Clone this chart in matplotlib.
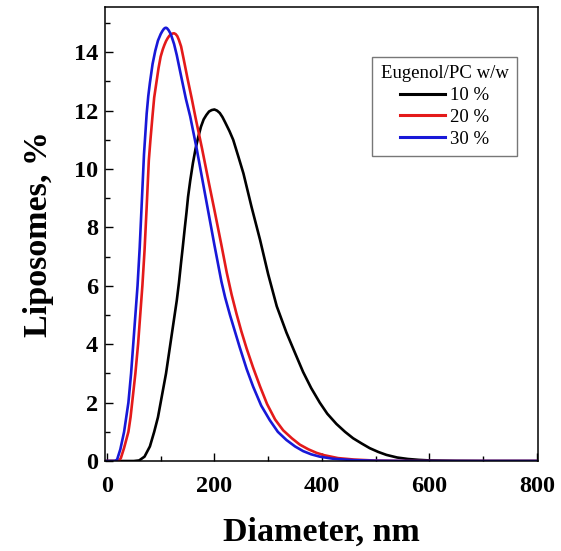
import numpy as np
import matplotlib
matplotlib.use("Agg")
import matplotlib.pyplot as plt
from matplotlib.ticker import MultipleLocator

# values (diameter in nm, liposomes in %)
x_10 = [0, 50, 60, 70, 80, 88, 95, 100, 110, 118, 126, 130, 134, 138, 141, 145, 148, 151, 155,
        160, 165, 170, 175, 180, 185, 190, 195, 200, 205, 210, 215, 220, 228, 235, 245, 254, 269,
        285, 300, 316, 334, 350, 365, 380, 396, 410, 427, 443, 458, 474, 489, 505, 520, 540, 560,
        580, 600, 650, 700, 800]
y_10 = [0, 0, 0.02, 0.15, 0.5, 1.0, 1.5, 2.0, 3.0, 4.0, 5.0, 5.5, 6.1, 6.8, 7.3, 8.0, 8.5, 9.05, 9.6,
        10.2, 10.7, 11.1, 11.45, 11.7, 11.85, 11.97, 12.02, 12.04, 12.0, 11.92, 11.78, 11.6, 11.3, 11.0, 10.4, 9.85, 8.71,
        7.57, 6.4, 5.3, 4.4, 3.7, 3.05, 2.5, 2.0, 1.62, 1.27, 1.0, 0.78, 0.6, 0.44, 0.31, 0.21, 0.12, 0.07,
        0.04, 0.02, 0.005, 0, 0]

x_20 = [0, 22, 26, 32, 40, 44, 47, 53, 58, 62, 66, 70, 74, 78, 81, 85, 88, 92, 96, 100, 104, 107,
        110, 113, 116, 119, 122, 125, 128, 131, 134, 138, 143, 150, 158, 165, 177, 190, 200, 213,
        223, 232, 241, 250, 260, 272, 285, 298, 313, 328, 344, 359, 375, 390, 404, 430, 460, 500,
        560, 800]
y_20 = [0, 0, 0.1, 0.45, 1.0, 1.5, 2.0, 3.0, 4.0, 5.0, 6.0, 7.2, 8.7, 10.3, 11.0, 11.85, 12.45, 12.95, 13.45, 13.85, 14.1, 14.25,
        14.38, 14.48, 14.56, 14.61, 14.64, 14.65, 14.62, 14.55, 14.42, 14.2, 13.75, 13.1, 12.4, 11.75, 10.7, 9.5, 8.6, 7.4,
        6.45, 5.7, 5.05, 4.45, 3.85, 3.2, 2.55, 1.95, 1.42, 1.05, 0.78, 0.56, 0.4, 0.28, 0.2, 0.1, 0.05, 0.015,
        0, 0]

x_30 = [0, 15, 19, 25, 32, 36, 40, 45, 49, 53, 57, 61, 65, 69, 74, 77, 80, 85, 90, 95, 100, 103,
        106, 108, 110, 112, 115, 118, 120, 125, 130, 139, 147, 155, 167, 180, 190, 200, 213, 220,
        229, 247, 260, 272, 287, 303, 318, 334, 350, 365, 380, 396, 420, 458, 500, 560, 800]
y_30 = [0, 0, 0.05, 0.4, 1.0, 1.5, 2.0, 3.0, 4.0, 5.0, 6.0, 7.3, 8.9, 10.5, 11.9, 12.5, 12.95, 13.6, 14.05, 14.4, 14.62, 14.72,
        14.8, 14.83, 14.84, 14.82, 14.75, 14.65, 14.56, 14.28, 13.9, 13.1, 12.4, 11.8, 10.7, 9.4, 8.4, 7.4, 6.15, 5.6,
        5.0, 3.9, 3.15, 2.55, 1.9, 1.4, 1.0, 0.72, 0.5, 0.34, 0.23, 0.15, 0.08, 0.03, 0.01, 0, 0]

labels = ["10 %", "20 %", "30 %"]
colors = ["black", "#e41a1a", "#1818d8"]

plt.rcParams['font.family'] = ['Liberation Serif', 'DejaVu Serif']

fig = plt.figure(figsize=(5.61, 5.51), dpi=100)
ax = fig.add_axes([0.187, 0.1633, 0.772, 0.824])

for xs, ys, lab, c in zip([x_10, x_20, x_30], [y_10, y_20, y_30], labels, colors):
    ax.plot(xs, ys, color=c, lw=1.9, label=lab, solid_joinstyle='round')

ax.set_xlim(-3.7, 802)
ax.set_ylim(0, 15.55)
ax.xaxis.set_major_locator(MultipleLocator(200))
ax.xaxis.set_minor_locator(MultipleLocator(100))
ax.yaxis.set_major_locator(MultipleLocator(2))
ax.yaxis.set_minor_locator(MultipleLocator(1))
ax.tick_params(which='both', direction='in', top=False, right=False, width=1.0)
ax.tick_params(which='major', length=6)
ax.tick_params(which='minor', length=3.5)
ax.tick_params(axis='x', which='major', pad=11)
ax.tick_params(axis='y', which='major', pad=5)
for lab in ax.get_xticklabels() + ax.get_yticklabels():
    lab.set_fontsize(17.5)
    lab.set_fontweight('bold')
for s in ax.spines.values():
    s.set_linewidth(1.1)

ax.set_xlabel("Diameter, nm", fontsize=24.5, fontweight='bold', labelpad=14)
ax.set_ylabel("Liposomes, %", fontsize=24.5, fontweight='bold', labelpad=14)

leg = ax.legend(title="Eugenol/PC w/w", loc='upper right', bbox_to_anchor=(0.9515, 0.89),
                borderaxespad=0, fontsize=13.5, title_fontsize=13.5, fancybox=False,
                handlelength=2.4, handletextpad=0.3, labelspacing=0.25, borderpad=0.45)
leg.get_frame().set_edgecolor('#555555')
leg.get_frame().set_linewidth(1.0)
for line in leg.get_lines():
    line.set_linewidth(2.2)

fig.savefig("out.png", dpi=100)
